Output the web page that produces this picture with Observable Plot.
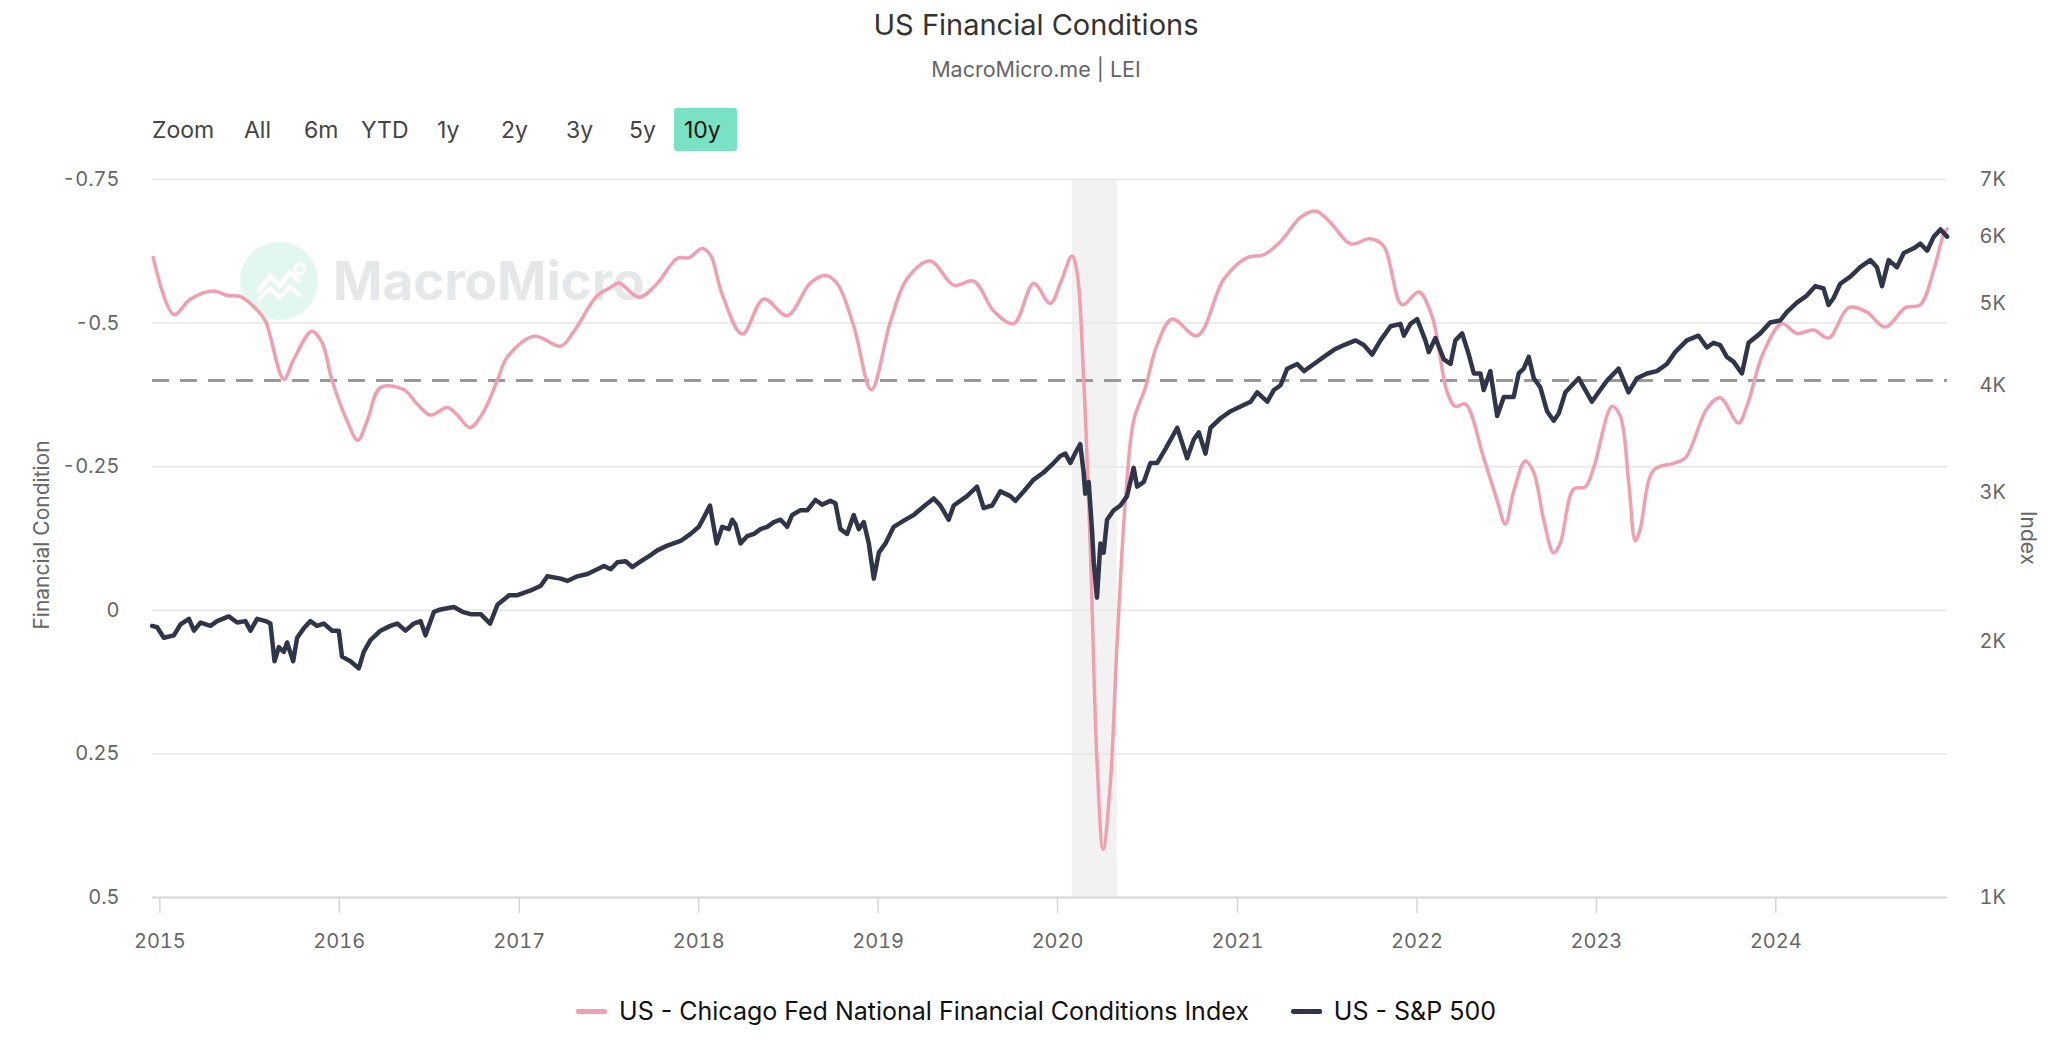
<!DOCTYPE html>
<html><head><meta charset="utf-8">
<script src="https://cdn.jsdelivr.net/npm/d3@7"></script>
<script src="https://cdn.jsdelivr.net/npm/@observablehq/plot@0.6"></script>
<style>
body{margin:0;background:#fff;font-family:Inter,"Noto Sans",sans-serif;}
#page{position:relative;width:2072px;height:1052px;overflow:hidden;background:#fff;}
.abs{position:absolute;white-space:nowrap;}
.c{transform:translate(-50%,-50%);}
.btn{position:absolute;top:130px;transform:translateY(-50%);font-size:23px;color:#444;}
#chart{position:absolute;left:0;top:150px;}
.leg{position:absolute;top:1011px;left:1036px;transform:translate(-50%,-50%);display:flex;align-items:center;font-size:25px;color:#111;white-space:nowrap;}
.sw{display:inline-block;width:31px;height:5px;border-radius:2px;margin-right:12px;}
</style></head><body><div id="page">
<div class="abs c" style="left:1036px;top:24px;font-size:29px;color:#333;">US Financial Conditions</div>
<div class="abs c" style="left:1036px;top:69px;font-size:21.5px;color:#666;">MacroMicro.me | LEI</div>
<div class="btn" style="left:152px;">Zoom</div>
<div class="btn" style="left:244px;">All</div>
<div class="btn" style="left:304px;">6m</div>
<div class="btn" style="left:361px;">YTD</div>
<div class="btn" style="left:437px;">1y</div>
<div class="btn" style="left:501px;">2y</div>
<div class="btn" style="left:566px;">3y</div>
<div class="btn" style="left:629px;">5y</div>
<div class="abs" style="left:674px;top:108px;width:63px;height:43px;background:#79e2c4;border-radius:3px;"></div>
<div class="btn" style="left:684px;color:#111;">10y</div>
<div class="abs" style="left:240px;top:242px;width:78px;height:78px;border-radius:50%;background:#e2f7f0;"></div>
<svg class="abs" style="left:240px;top:242px;" width="78" height="78"><polyline points="18,50 30,34 40,44 50,30 60,40" fill="none" stroke="#fff" stroke-width="5" stroke-linejoin="round"/><polyline points="18,58 30,46 40,56 50,44 60,54" fill="none" stroke="#fff" stroke-width="4" stroke-linejoin="round"/><circle cx="60" cy="27" r="5" fill="none" stroke="#fff" stroke-width="3"/></svg>
<div class="abs" style="left:333px;top:281px;transform:translateY(-50%);font-size:53px;font-weight:700;color:#e6e7e9;">MacroMicro</div>
<div id="chart"></div>
<div class="abs c" style="left:41px;top:535px;transform:translate(-50%,-50%) rotate(-90deg);font-size:21px;color:#666;">Financial Condition</div>
<div class="abs c" style="left:2028px;top:538px;transform:translate(-50%,-50%) rotate(90deg);font-size:21px;color:#666;">Index</div>
<div class="leg"><span class="sw" style="background:#f19fb0"></span><span>US - Chicago Fed National Financial Conditions Index</span><span style="display:inline-block;width:42px"></span><span class="sw" style="background:#30354a"></span><span>US - S&amp;P 500</span></div>
</div>
<script>
// Chicago Fed NFCI (left axis, reversed), dates as decimal years
const nfciT = [2014.963,2015.078,2015.171,2015.301,2015.375,2015.449,2015.542,2015.589,2015.691,2015.746,2015.848,2015.904,2015.960,2016.043,2016.103,2016.155,2016.229,2016.359,2016.433,2016.507,2016.600,2016.656,2016.726,2016.804,2016.878,2016.934,2017.083,2017.231,2017.305,2017.435,2017.509,2017.556,2017.667,2017.769,2017.881,2017.946,2018.020,2018.066,2018.131,2018.243,2018.363,2018.493,2018.623,2018.707,2018.772,2018.864,2018.962,2019.069,2019.161,2019.291,2019.421,2019.533,2019.644,2019.755,2019.867,2019.959,2020.015,2020.080,2020.108,2020.145,2020.182,2020.219,2020.253,2020.293,2020.331,2020.377,2020.423,2020.488,2020.553,2020.637,2020.776,2020.925,2021.054,2021.147,2021.240,2021.351,2021.435,2021.518,2021.630,2021.741,2021.815,2021.917,2022.010,2022.085,2022.168,2022.214,2022.270,2022.372,2022.447,2022.493,2022.539,2022.604,2022.651,2022.706,2022.762,2022.799,2022.873,2022.938,2022.985,2023.087,2023.133,2023.180,2023.217,2023.244,2023.319,2023.430,2023.495,2023.616,2023.690,2023.792,2023.838,2023.931,2024.033,2024.117,2024.210,2024.293,2024.405,2024.506,2024.608,2024.720,2024.803,2024.878,2024.933,2024.952];
const nfciV = [-0.614,-0.515,-0.542,-0.556,-0.548,-0.546,-0.523,-0.503,-0.402,-0.437,-0.486,-0.466,-0.400,-0.330,-0.296,-0.330,-0.388,-0.384,-0.359,-0.340,-0.353,-0.340,-0.318,-0.347,-0.400,-0.441,-0.477,-0.460,-0.486,-0.548,-0.562,-0.570,-0.545,-0.569,-0.613,-0.614,-0.630,-0.618,-0.550,-0.481,-0.542,-0.513,-0.570,-0.583,-0.569,-0.495,-0.384,-0.503,-0.577,-0.608,-0.566,-0.573,-0.521,-0.499,-0.569,-0.534,-0.569,-0.617,-0.589,-0.404,-0.108,0.261,0.416,0.302,0.056,-0.191,-0.330,-0.388,-0.462,-0.507,-0.478,-0.577,-0.614,-0.619,-0.642,-0.684,-0.695,-0.675,-0.638,-0.647,-0.634,-0.532,-0.554,-0.511,-0.380,-0.355,-0.359,-0.265,-0.191,-0.150,-0.207,-0.260,-0.240,-0.158,-0.100,-0.117,-0.211,-0.215,-0.248,-0.355,-0.338,-0.223,-0.121,-0.141,-0.244,-0.256,-0.265,-0.351,-0.370,-0.326,-0.355,-0.449,-0.499,-0.482,-0.488,-0.474,-0.527,-0.519,-0.493,-0.527,-0.532,-0.593,-0.655,-0.664];
// S&P 500 (right axis, log)
const spxT = [2014.957,2014.985,2015.022,2015.078,2015.115,2015.162,2015.190,2015.227,2015.282,2015.319,2015.384,2015.431,2015.477,2015.505,2015.542,2015.589,2015.616,2015.639,2015.663,2015.691,2015.709,2015.743,2015.765,2015.802,2015.839,2015.876,2015.913,2015.960,2015.997,2016.015,2016.062,2016.108,2016.136,2016.173,2016.229,2016.284,2016.322,2016.368,2016.414,2016.452,2016.479,2016.526,2016.563,2016.637,2016.684,2016.730,2016.786,2016.838,2016.879,2016.944,2016.990,2017.064,2017.120,2017.157,2017.231,2017.268,2017.324,2017.380,2017.435,2017.472,
2017.510,2017.547,2017.593,2017.630,2017.677,2017.732,2017.769,2017.825,2017.899,2017.955,2018.001,2018.029,2018.063,2018.100,2018.131,2018.168,2018.187,2018.205,2018.233,2018.270,2018.308,2018.345,2018.382,2018.419,2018.456,2018.493,2018.521,2018.567,2018.605,2018.651,2018.688,2018.734,2018.762,2018.790,2018.827,2018.864,2018.892,2018.920,2018.948,2018.976,2019.004,2019.041,2019.087,2019.143,2019.198,2019.254,2019.310,2019.347,2019.393,2019.421,2019.495,2019.551,2019.588,2019.635,2019.681,2019.737,2019.765,2019.811,2019.867,2019.922,2019.978,2020.015,
2020.043,2020.071,2020.099,2020.126,2020.145,2020.154,2020.173,2020.191,2020.201,2020.219,2020.238,2020.256,2020.275,2020.312,2020.349,2020.386,2020.423,2020.442,2020.479,2020.516,2020.553,2020.600,2020.665,2020.720,2020.757,2020.785,2020.822,2020.850,2020.906,2020.962,2021.017,2021.073,2021.110,2021.166,2021.203,2021.240,2021.277,2021.333,2021.370,2021.426,2021.481,2021.537,2021.593,2021.658,2021.704,2021.750,2021.797,2021.853,2021.908,2021.927,2021.964,2022.001,2022.047,2022.066,2022.103,2022.150,2022.187,2022.214,2022.252,2022.289,2022.317,2022.354,2022.372,2022.409,2022.447,2022.484,
2022.539,2022.567,2022.595,2022.623,2022.651,2022.688,2022.725,2022.762,2022.790,2022.827,2022.864,2022.901,2022.938,2022.975,2023.012,2023.059,2023.124,2023.152,2023.179,2023.226,2023.282,2023.337,2023.393,2023.439,2023.504,2023.569,2023.616,2023.653,2023.690,2023.727,2023.764,2023.811,2023.848,2023.913,2023.968,2024.024,2024.061,2024.117,2024.172,2024.219,2024.265,2024.293,2024.321,2024.358,2024.414,2024.469,2024.525,2024.562,2024.590,2024.627,2024.673,2024.711,2024.766,2024.803,2024.841,2024.878,2024.915,2024.952];
const spxV = [2088,2080,2022,2035,2096,2128,2061,2107,2088,2115,2142,2107,2115,2061,2128,2115,2101,1897,1971,1946,1996,1897,2022,2074,2115,2088,2101,2061,2061,1921,1897,1861,1946,2009,2061,2088,2101,2061,2101,2115,2035,2169,2183,2197,2169,2155,2155,2101,2211,2269,2269,2298,2328,2388,2373,2358,2388,2403,2434,2456,
2434,2481,2487,2449,2487,2529,2562,2595,2628,2679,2731,2802,2893,2611,2731,2714,2784,2748,2611,2662,2679,2714,2731,2766,2784,2731,2820,2856,2856,2937,2900,2930,2911,2714,2679,2820,2714,2766,2611,2373,2546,2611,2731,2777,2820,2886,2949,2893,2784,2893,2968,3045,2874,2893,3006,2968,2930,3006,3104,3164,3246,3309,
3330,3246,3338,3416,3164,2987,3084,2714,2481,2254,2611,2546,2784,2856,2893,2968,3204,3045,3084,3246,3246,3373,3572,3288,3460,3527,3330,3572,3665,3736,3784,3833,3932,3833,3957,4008,4192,4246,4165,4246,4328,4412,4469,4526,4469,4356,4526,4703,4733,4584,4733,4794,4526,4384,4555,4300,4246,4526,4613,4356,4138,4138,3957,4165,3688,3882,
3882,4138,4192,4328,4085,3983,3736,3641,3712,3932,4008,4085,3957,3833,3932,4059,4192,4059,3932,4085,4138,4165,4246,4384,4526,4584,4440,4497,4469,4328,4273,4138,4497,4613,4752,4776,4887,5014,5111,5243,5210,4981,5078,5277,5379,5519,5626,5519,5243,5626,5519,5735,5809,5883,5771,5996,6113,5996];
const leftTicks = [-0.75,-0.5,-0.25,0,0.25,0.5];
const rightTicks = [1000,2000,3000,4000,5000,6000,7000];
const years = [2015,2016,2017,2018,2019,2020,2021,2022,2023,2024];
const thresholdValue = -0.4;
const recession = [{start: 2020.082, end: 2020.332}];
const xStart = 2014.959, xEnd = 2024.954;

function yd(t){const y=Math.floor(t);const s=Date.UTC(y,0,1),e=Date.UTC(y+1,0,1);return new Date(s+(t-y)*(e-s));}
const L7 = Math.log(7);
const toLeft = s => 0.5 - Math.log(s/1000)/L7*1.25;
const fromLeft = v => 1000*Math.pow(7,(0.5-v)/1.25);

const nfci = nfciT.map((t,i)=>({date:yd(t), v:nfciV[i]}));
const spx = spxT.map((t,i)=>({date:yd(t), v:spxV[i]}));

const plot = Plot.plot({
  width: 2072, height: 830,
  marginLeft: 152, marginRight: 125, marginTop: 29, marginBottom: 83,
  style: {fontFamily: "Inter, 'Noto Sans', sans-serif", fontSize: "20px", color: "#666", background: "transparent"},
  x: {type: "utc", domain: [yd(xStart), yd(xEnd)]},
  y: {domain: [-0.75, 0.5], reverse: true},
  marks: [
    Plot.rect(recession, {x1: d=>yd(d.start), x2: d=>yd(d.end), y1: -0.75, y2: 0.5, fill: "#f2f2f2"}),
    Plot.ruleY(leftTicks.slice(0,-1), {stroke: "#e6e6e6", strokeWidth: 1.5}),
    Plot.ruleY([0.5], {stroke: "#d6d6d6", strokeWidth: 2}),
    Plot.ruleY([thresholdValue], {stroke: "#999", strokeWidth: 3, strokeDasharray: "17,11"}),
    Plot.line(nfci, {x: "date", y: "v", stroke: "#f19fb0", strokeWidth: 3.5, curve: "catmull-rom"}),
    Plot.line(spx, {x: "date", y: d=>toLeft(d.v), stroke: "#30354a", strokeWidth: 4.5, curve: "linear", strokeLinejoin: "round"}),
    Plot.axisX(years.map(y=>new Date(Date.UTC(y,0,1))), {tickFormat: "%Y", tickSize: 16, tickPadding: 20, stroke: "#d6d6d6", strokeWidth: 1.5, label: null}),
    Plot.axisY(leftTicks, {anchor: "left", tickSize: 0, tickPadding: 33, tickFormat: d=>String(d), label: null}),
    Plot.axisY(rightTicks.map(toLeft), {anchor: "right", tickSize: 0, tickPadding: 32, tickFormat: d=>Math.round(fromLeft(d)/1000)+"K", label: null})
  ]
});
document.getElementById("chart").appendChild(plot);
</script>
</body></html>
